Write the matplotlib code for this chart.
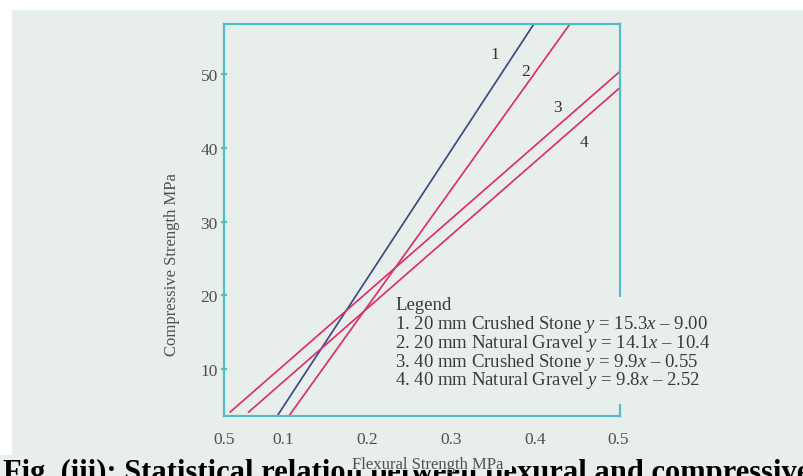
import matplotlib.pyplot as plt
from matplotlib.patches import Rectangle

# flexural vs compressive strength regression lines (end points of each line)
flex_1 = [0.093, 0.399]
comp_1 = [3.63, 56.8]
flex_2 = [0.107, 0.442]
comp_2 = [3.63, 56.8]
flex_3 = [0.037, 0.502]
comp_3 = [4.17, 50.4]
flex_4 = [0.059, 0.502]
comp_4 = [4.17, 48.2]

xtick_pos = [0.03, 0.1, 0.2, 0.3, 0.4, 0.5]
xtick_lab = ['0.5', '0.1', '0.2', '0.3', '0.4', '0.5']
ytick_pos = [10, 20, 30, 40, 50]

legend_rows = ['Legend',
               '1. 20 mm Crushed Stone $y$ = 15.3$x$ \u2013 9.00',
               '2. 20 mm Natural Gravel $y$ = 14.1$x$ \u2013 10.4',
               '3. 40 mm Crushed Stone $y$ = 9.9$x$ \u2013 0.55',
               '4. 40 mm Natural Gravel $y$ = 9.8$x$ \u2013 2.52']

plt.rcParams['font.family'] = 'Liberation Serif'
plt.rcParams['mathtext.fontset'] = 'custom'
plt.rcParams['mathtext.it'] = 'Liberation Serif:italic'
plt.rcParams['mathtext.rm'] = 'Liberation Serif'

bg = '#e8efeb'
spine_col = '#52bccb'
navy = '#3c4a86'
pink = '#d8316e'

fig = plt.figure(figsize=(8.04, 4.77), dpi=100, facecolor=bg)
ax = fig.add_axes([224/804, 1 - 417/477, 396/804, 392/477])
ax.set_facecolor(bg)

ax.plot(flex_1, comp_1, color=navy, lw=1.25)
ax.plot(flex_2, comp_2, color=pink, lw=1.25)
ax.plot(flex_3, comp_3, color=pink, lw=1.25)
ax.plot(flex_4, comp_4, color=pink, lw=1.25)

ax.set_xlim(0.0296, 0.5017)
ax.set_ylim(3.63, 56.8)

for s in ax.spines.values():
    s.set_color(spine_col)
    s.set_linewidth(1.6)

ax.set_xticks(xtick_pos)
ax.set_xticklabels(xtick_lab)
ax.set_yticks(ytick_pos)
ax.tick_params(axis='x', length=0, pad=11, labelsize=12.5, labelcolor='#505050')
ax.tick_params(axis='y', length=5, width=1.6, direction='inout', color=spine_col,
               pad=2, labelsize=12.5, labelcolor='#505050')

# right spine is hidden behind the legend block
ax.add_patch(Rectangle((0.98, 0.03), 0.04, 0.273, transform=ax.transAxes,
                       facecolor=bg, edgecolor='none', zorder=2.6, clip_on=False))

# line numbers
for lab, x, y in [('1', 0.353, 52.7), ('2', 0.389, 50.4), ('3', 0.427, 45.5), ('4', 0.459, 40.8)]:
    ax.text(x, y, lab, fontsize=12.5, color='#333333', ha='center', va='center')

for i, row in enumerate(legend_rows):
    ax.text(0.2337, 18.7 - i * 2.54, row, fontsize=13.5, color='#3a3a3a',
            ha='left', va='center', zorder=3, clip_on=False)

fig.text(172/804, 1 - 265/477, 'Compressive Strength MPa', rotation=90,
         ha='center', va='center', fontsize=12, color='#505050')

# page margins
fig.patches.append(Rectangle((0, 1 - 11/477), 1, 11/477, transform=fig.transFigure,
                             facecolor='white', edgecolor='none'))
fig.patches.append(Rectangle((0, 1 - 456/477), 12/804, 445/477, transform=fig.transFigure,
                             facecolor='white', edgecolor='none'))

fig.text(3/804, 1 - 481/477, 'Fig. (iii): Statistical relation between flexural and compressive strength',
         ha='left', va='baseline', fontsize=22, fontweight='bold', color='black', zorder=3)

# chart panel sits on top of the caption around the x label
fig.add_artist(Rectangle((346/804, 1 - 471/477), 166/804, 25/477, transform=fig.transFigure,
                         facecolor=bg, edgecolor='none', zorder=3.5))
fig.text(428/804, 1 - 465/477, 'Flexural Strength MPa', ha='center', va='center',
         fontsize=12, color='#505050', zorder=4)

fig.savefig('out.png', dpi=100, facecolor=bg)
